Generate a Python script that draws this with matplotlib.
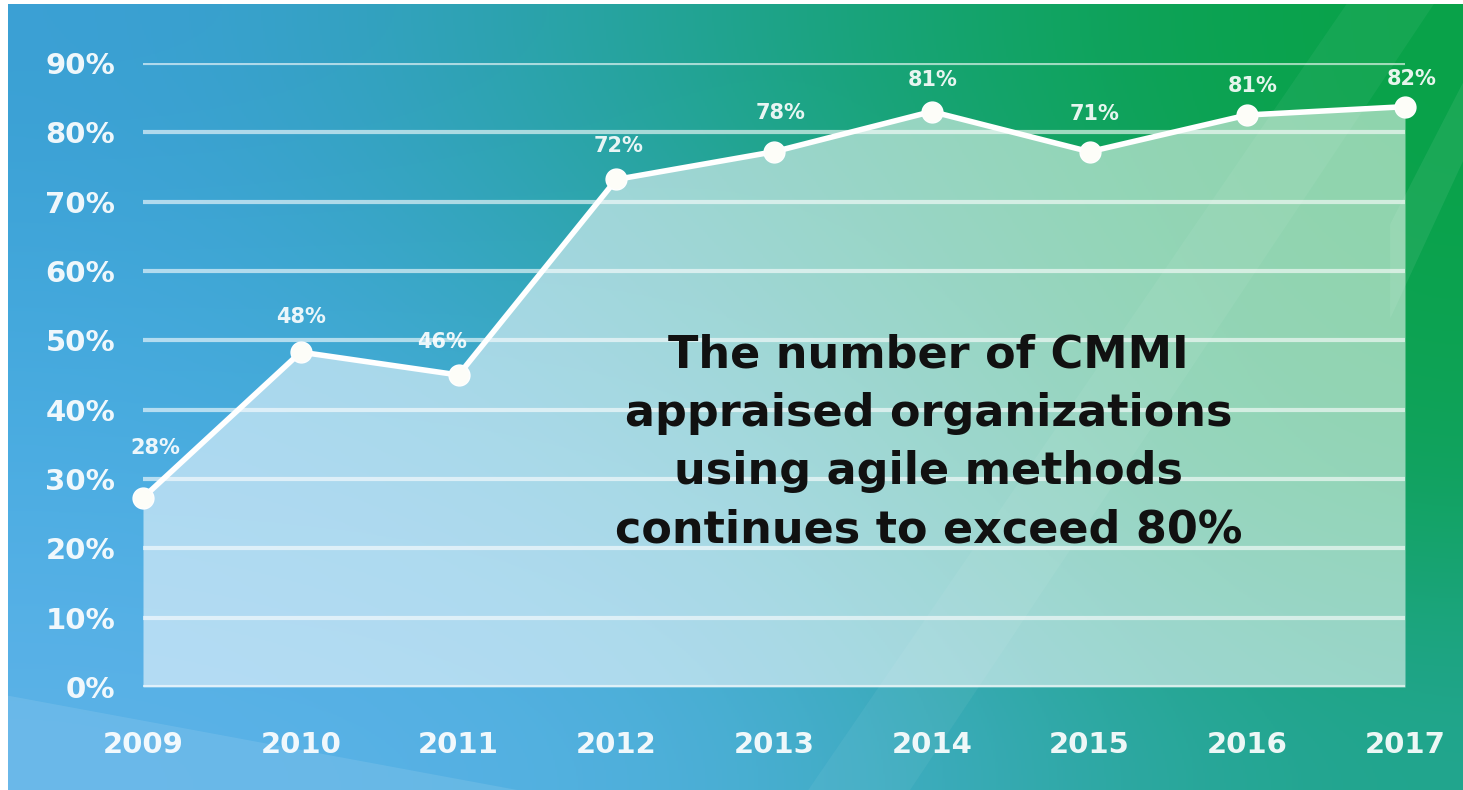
import numpy as np
import matplotlib
matplotlib.use("Agg")
import matplotlib.pyplot as plt
from matplotlib.patches import Polygon

# data
years = [2009, 2010, 2011, 2012, 2013, 2014, 2015, 2016, 2017]
values = [27.3, 48.3, 45.0, 73.2, 77.2, 83.0, 77.2, 82.5, 83.7]
point_labels = ["28%", "48%", "46%", "72%", "78%", "81%", "71%", "81%", "82%"]
y_ticks = [0, 10, 20, 30, 40, 50, 60, 70, 80, 90]
y_tick_labels = ["0%", "10%", "20%", "30%", "40%", "50%", "60%", "70%", "80%", "90%"]
message = "The number of CMMI\nappraised organizations\nusing agile methods\ncontinues to exceed 80%"

# label offsets in points (layout only)
label_offsets = [(9, 36), (0, 25), (-12, 24), (2, 24), (5, 28), (1, 23), (4, 27), (4, 21), (5, 20)]

W, H = 1463, 790
fig = plt.figure(figsize=(W / 100, H / 100), dpi=100, facecolor="white")

# gradient background
bg = fig.add_axes([8 / W, 0, 1 - 8 / W, 1 - 4 / H])
corners = np.array([
    [[60, 160, 215], [30, 165, 140], [8, 162, 70]],
    [[68, 168, 222], [45, 167, 170], [10, 162, 74]],
    [[78, 174, 228], [62, 172, 205], [15, 162, 90]],
    [[92, 178, 232], [80, 176, 224], [32, 165, 140]],
]) / 255.0
bg.imshow(corners, extent=[0, 1, 0, 1], aspect="auto", interpolation="bicubic")
streaks = [
    [(0.00, 0.00), (0.35, 0.00), (0.00, 0.12)],
    [(0.95, 0.60), (1.00, 0.80), (1.00, 0.90), (0.95, 0.72)],
    [(0.55, 0.00), (0.62, 0.00), (0.98, 1.00), (0.92, 1.00)],
]
for pts, a in zip(streaks, [0.10, 0.07, 0.05]):
    bg.add_patch(Polygon(pts, closed=True, color="white", alpha=a, lw=0))
bg.set_xlim(0, 1)
bg.set_ylim(0, 1)
bg.axis("off")

# main chart
left, right = 143 / W, 1405 / W
bottom, top = (H - 687) / H, (H - 63) / H
ax = fig.add_axes([left, bottom, right - left, top - bottom])
ax.patch.set_alpha(0)

ax.fill_between(years, values, 0, color="white", alpha=0.55, lw=0, zorder=1)
ax.plot(years, values, color="white", lw=4, marker="o", markersize=15,
        markerfacecolor="#fdfdf8", markeredgecolor="white", zorder=4, clip_on=False)

for x, v, lab, off in zip(years, values, point_labels, label_offsets):
    ax.annotate(lab, (x, v), xytext=off, textcoords="offset points",
                ha="center", va="center", color="white", fontsize=15,
                fontweight="bold", alpha=0.9, zorder=5)

ax.set_xlim(years[0], years[-1])
ax.set_ylim(0, 90)
ax.set_yticks(y_ticks)
ax.set_yticklabels(y_tick_labels)
ax.set_xticks(years)
ax.set_xticklabels([str(y) for y in years])
ax.grid(axis="y", color="white", alpha=0.6, lw=3)
ax.grid(axis="x", visible=False)
for s in ax.spines.values():
    s.set_visible(False)
ax.tick_params(length=0, colors="white", labelsize=21)
ax.tick_params(axis="y", pad=20)
ax.tick_params(axis="x", pad=32)
for t in ax.get_xticklabels() + ax.get_yticklabels():
    t.set_fontweight("bold")
    t.set_alpha(0.92)

ax.text(2014.0 - 0.02, 35.3, message, ha="center", va="center",
        fontsize=32, fontweight="bold", color="#111111", linespacing=1.45, zorder=6)

fig.savefig("out.png", dpi=100, facecolor=fig.get_facecolor())
